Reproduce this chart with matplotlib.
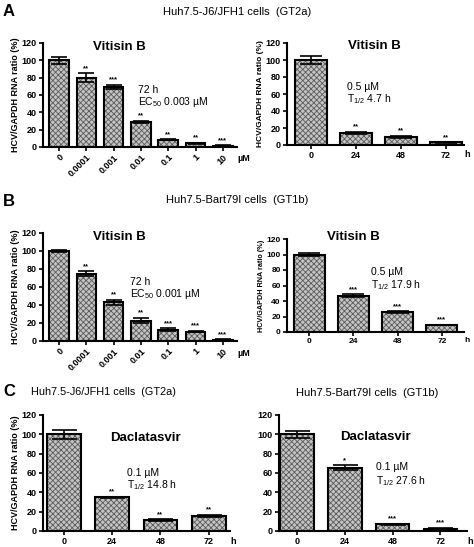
import numpy as np
import matplotlib
matplotlib.use('Agg')
import matplotlib.pyplot as plt

plt.rcParams['font.family'] = ['Liberation Sans', 'DejaVu Sans']
plt.rcParams['mathtext.fontset'] = 'custom'
plt.rcParams['mathtext.rm'] = 'Liberation Sans'
plt.rcParams['mathtext.it'] = 'Liberation Sans:italic'
plt.rcParams['mathtext.bf'] = 'Liberation Sans:bold'
plt.rcParams['mathtext.default'] = 'regular'
plt.rcParams['hatch.linewidth'] = 0.6

# data
conc_labels = ['0', '0.0001', '0.001', '0.01', '0.1', '1', '10']
time_labels = ['0', '24', '48', '72']

a_dose = [100, 80, 69, 29, 8.5, 4.5, 1.5]
a_dose_err = [4, 5, 2.5, 1, 0.6, 0.5, 0.5]
a_dose_sig = ['', '**', '***', '**', '**', '**', '***']

a_time = [100, 14.5, 9.5, 3]
a_time_err = [5, 1, 1.5, 0.5]
a_time_sig = ['', '**', '**', '**']

b_dose = [100, 75, 43, 22.5, 12.5, 10.5, 1.5]
b_dose_err = [1.5, 2.5, 3, 3, 1.5, 1, 0.5]
b_dose_sig = ['', '**', '**', '**', '***', '***', '***']

b_time = [100, 47, 25.5, 9]
b_time_err = [1.5, 2, 1.5, 0.5]
b_time_sig = ['', '***', '***', '***']

c_gt2a = [100, 35, 11, 16]
c_gt2a_err = [5, 0.5, 1, 1]
c_gt2a_sig = ['', '**', '**', '**']

c_gt1b = [100, 65.5, 7, 2.5]
c_gt1b_err = [3.5, 2.5, 0.5, 0.5]
c_gt1b_sig = ['', '*', '***', '***']

W, H = 474, 547
fig = plt.figure(figsize=(W / 100, H / 100), dpi=100)


def make_ax(x0, x1, ytop, ybot):
    return fig.add_axes([x0 / W, 1 - ybot / H, (x1 - x0) / W, (ybot - ytop) / H])


def panel(ax, labels, vals, errs, sig, xlim, width=0.7, rotate=False, unit='h',
          ylabel=True, fs=6.5, yfs=6.5, cap=8):
    x = np.arange(len(vals))
    ax.bar(x, vals, width=width, color='#c4c4c4', edgecolor='#5a5a5a',
           hatch='xxxxxx', linewidth=0, zorder=2)
    ax.bar(x, vals, width=width, fill=False, edgecolor='black', linewidth=1.5, zorder=3)
    ax.errorbar(x, vals, yerr=errs, fmt='none', ecolor='black', elinewidth=1.2,
                capsize=cap, capthick=1.2, zorder=4)
    for xi, v, e, s in zip(x, vals, errs, sig):
        if s:
            ax.text(xi, v + e + 1.5, s, ha='center', va='bottom', fontsize=5.5,
                    fontweight='bold')
    ax.set_xlim(*xlim)
    ax.set_ylim(0, 120)
    ax.set_yticks(np.arange(0, 121, 20))
    ax.set_xticks(x)
    if rotate:
        ax.set_xticklabels(labels, rotation=45, ha='right', rotation_mode='anchor')
    else:
        ax.set_xticklabels(labels)
    for lab in ax.get_xticklabels() + ax.get_yticklabels():
        lab.set_fontweight('bold')
        lab.set_fontsize(fs)
    ax.tick_params(axis='both', direction='out', length=3, width=1.2, pad=1.5)
    ax.tick_params(axis='x', pad=1)
    for sp in ['top', 'right']:
        ax.spines[sp].set_visible(False)
    for sp in ['left', 'bottom']:
        ax.spines[sp].set_linewidth(1.5)
    if ylabel:
        ax.set_ylabel('HCV/GAPDH RNA ratio (%)', fontsize=yfs, fontweight='bold', labelpad=1)
    ax.text(1.0, -0.05 if not rotate else -0.07, unit, transform=ax.transAxes,
            fontsize=fs, fontweight='bold', ha='left', va='top')


# A
ax = make_ax(43, 237, 43, 147)
panel(ax, conc_labels, a_dose, a_dose_err, a_dose_sig, (-0.59, 6.52), width=0.72,
      rotate=True, unit='\u00b5M', cap=6)
ax.text(2.2, 115, 'Vitisin B', ha='center', va='center', fontsize=9.5, fontweight='bold')
ax.text(2.9, 66, '72 h', ha='left', va='center', fontsize=7.5)
ax.text(2.9, 52, 'EC$_{50}$ 0.003 \u00b5M', ha='left', va='center', fontsize=7.5)

ax = make_ax(287, 464, 43, 145)
panel(ax, time_labels, a_time, a_time_err, a_time_sig, (-0.53, 3.4), yfs=6, cap=8)
ax.text(1.4, 116, 'Vitisin B', ha='center', va='center', fontsize=9.5, fontweight='bold')
ax.text(0.8, 68, '0.5 \u00b5M', ha='left', va='center', fontsize=7.5)
ax.text(0.8, 54, 'T$_{1/2}$ 4.7 h', ha='left', va='center', fontsize=7.5)

# B
ax = make_ax(43, 237, 233, 341)
panel(ax, conc_labels, b_dose, b_dose_err, b_dose_sig, (-0.59, 6.52), width=0.72,
      rotate=True, unit='\u00b5M', cap=6)
ax.text(2.2, 116, 'Vitisin B', ha='center', va='center', fontsize=9.5, fontweight='bold')
ax.text(2.6, 66, '72 h', ha='left', va='center', fontsize=7.5)
ax.text(2.6, 52, 'EC$_{50}$ 0.001 \u00b5M', ha='left', va='center', fontsize=7.5)

ax = make_ax(287, 464, 239, 332)
panel(ax, time_labels, b_time, b_time_err, b_time_sig, (-0.5, 3.5), fs=6, yfs=5.2, cap=8)
ax.text(1.0, 122, 'Vitisin B', ha='center', va='center', fontsize=9.5, fontweight='bold')
ax.text(1.4, 78, '0.5 \u00b5M', ha='left', va='center', fontsize=7.5)
ax.text(1.4, 61, 'T$_{1/2}$ 17.9 h', ha='left', va='center', fontsize=7.5)

# C
ax = make_ax(43, 230, 415, 531)
panel(ax, time_labels, c_gt2a, c_gt2a_err, c_gt2a_sig, (-0.43, 3.44), cap=9)
ax.text(1.7, 96, 'Daclatasvir', ha='center', va='center', fontsize=9.5, fontweight='bold')
ax.text(1.3, 60, '0.1 \u00b5M', ha='left', va='center', fontsize=7.5)
ax.text(1.3, 48, 'T$_{1/2}$ 14.8 h', ha='left', va='center', fontsize=7.5)

ax = make_ax(279, 467, 415, 531)
panel(ax, time_labels, c_gt1b, c_gt1b_err, c_gt1b_sig, (-0.38, 3.56), ylabel=False, cap=9)
ax.text(1.65, 97, 'Daclatasvir', ha='center', va='center', fontsize=9.5, fontweight='bold')
ax.text(1.65, 66, '0.1 \u00b5M', ha='left', va='center', fontsize=7.5)
ax.text(1.65, 52, 'T$_{1/2}$ 27.6 h', ha='left', va='center', fontsize=7.5)

# panel letters and titles
fig.text(3 / W, 1 - 11 / H, 'A', fontsize=12, fontweight='bold', va='center')
fig.text(237 / W, 1 - 12 / H, 'Huh7.5-J6/JFH1 cells  (GT2a)', fontsize=8, ha='center', va='center')
fig.text(3 / W, 1 - 201 / H, 'B', fontsize=12, fontweight='bold', va='center')
fig.text(237 / W, 1 - 200 / H, 'Huh7.5-Bart79I cells  (GT1b)', fontsize=8, ha='center', va='center')
fig.text(3 / W, 1 - 392 / H, 'C', fontsize=12, fontweight='bold', va='center')
fig.text(103 / W, 1 - 392 / H, 'Huh7.5-J6/JFH1 cells  (GT2a)', fontsize=7.8, ha='center', va='center')
fig.text(367 / W, 1 - 393 / H, 'Huh7.5-Bart79I cells  (GT1b)', fontsize=8, ha='center', va='center')

fig.savefig('out.png', dpi=100)
